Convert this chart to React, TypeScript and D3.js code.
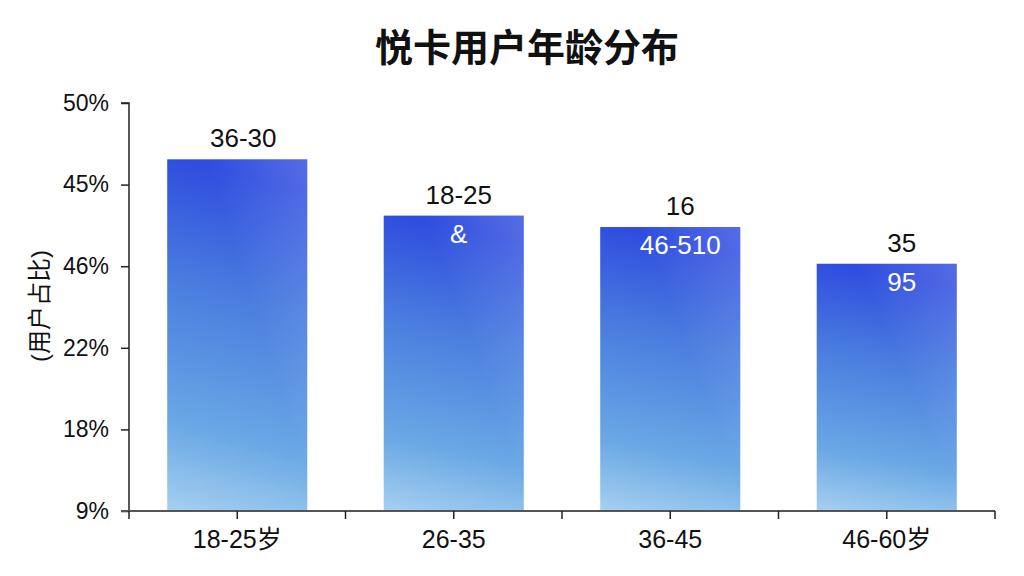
import * as d3 from "d3";
import { useEffect, useRef } from "react";

const W = 1024;
const H = 576;
const M = { top: 103, right: 29, bottom: 65, left: 129 };

const CATEGORIES = ["18-25岁", "26-35", "36-45", "46-60岁"];
const VALUES = [43.1, 36.2, 34.8, 30.3];
const TOP_LABELS = ["36-30", "18-25", "16", "35"];
const INNER_LABELS = ["", "&", "46-510", "95"];
const Y_TICKS = [0, 10, 20, 30, 40, 50];
const Y_TICK_LABELS = ["9%", "18%", "22%", "46%", "45%", "50%"];

const FONT = "'Liberation Sans', Arial, 'Noto Sans CJK SC', sans-serif";

export default function App() {
  const ref = useRef<SVGSVGElement>(null);

  useEffect(() => {
    const svg = d3.select(ref.current);
    svg.selectAll("*").remove();

    const x = d3
      .scaleBand<string>()
      .domain(CATEGORIES)
      .range([M.left, W - M.right])
      .paddingInner(0.353)
      .paddingOuter(0.1765);
    const y = d3.scaleLinear().domain([0, 50]).range([H - M.bottom, M.top]);

    const defs = svg.append("defs");
    const grad = defs
      .append("linearGradient")
      .attr("id", "barGrad")
      .attr("x1", 0.1)
      .attr("y1", 0)
      .attr("x2", 0)
      .attr("y2", 1);
    grad.append("stop").attr("offset", "0%").attr("stop-color", "#2f4ddf");
    grad.append("stop").attr("offset", "35%").attr("stop-color", "#4a7ddf");
    grad.append("stop").attr("offset", "75%").attr("stop-color", "#6aa8e5");
    grad.append("stop").attr("offset", "100%").attr("stop-color", "#a6d0f0");

    const shine = defs
      .append("linearGradient")
      .attr("id", "shine")
      .attr("x1", 1)
      .attr("y1", 0)
      .attr("x2", 0.55)
      .attr("y2", 0.35);
    shine.append("stop").attr("offset", "0%").attr("stop-color", "#fff").attr("stop-opacity", 0.18);
    shine.append("stop").attr("offset", "100%").attr("stop-color", "#fff").attr("stop-opacity", 0);

    svg
      .append("rect")
      .attr("width", W)
      .attr("height", H)
      .attr("fill", "#ffffff");

    // title
    svg
      .append("text")
      .attr("x", 527)
      .attr("y", 61)
      .attr("text-anchor", "middle")
      .attr("font-family", FONT)
      .attr("font-size", 38)
      .attr("font-weight", 700)
      .attr("fill", "#111")
      .text("悦卡用户年龄分布");

    // bars
    const bars = svg.append("g");
    CATEGORIES.forEach((c, i) => {
      const bx = x(c)!;
      const by = y(VALUES[i]);
      const bh = y(0) - by;
      bars
        .append("rect")
        .attr("x", bx)
        .attr("y", by)
        .attr("width", x.bandwidth())
        .attr("height", bh)
        .attr("fill", "url(#barGrad)");
      bars
        .append("rect")
        .attr("x", bx)
        .attr("y", by)
        .attr("width", x.bandwidth())
        .attr("height", bh)
        .attr("fill", "url(#shine)");
    });

    // labels
    const labels = svg.append("g").attr("font-family", FONT).attr("text-anchor", "middle");
    CATEGORIES.forEach((c, i) => {
      const cx = x(c)! + x.bandwidth() / 2 + (i === 0 ? 6 : i * 5);
      const by = y(VALUES[i]);
      labels
        .append("text")
        .attr("x", cx)
        .attr("y", by - 12)
        .attr("font-size", 26)
        .attr("fill", "#111")
        .text(TOP_LABELS[i]);
      if (INNER_LABELS[i]) {
        labels
          .append("text")
          .attr("x", cx)
          .attr("y", by + 27)
          .attr("font-size", 26)
          .attr("fill", "#ffffff")
          .text(INNER_LABELS[i]);
      }
    });

    // y axis
    const yAxis = svg
      .append("g")
      .attr("transform", `translate(${M.left},0)`)
      .call(
        d3
          .axisLeft(y)
          .tickValues(Y_TICKS)
          .tickSize(8)
          .tickPadding(12)
          .tickFormat((_, i) => Y_TICK_LABELS[i])
      );
    yAxis.select(".domain").attr("stroke", "#222").attr("stroke-width", 1.5).attr("d", `M-8,${M.top}H0V${H - M.bottom}`);
    yAxis.selectAll(".tick line").attr("stroke", "#222").attr("stroke-width", 1.5);
    yAxis
      .selectAll(".tick text")
      .attr("font-family", FONT)
      .attr("font-size", 23)
      .attr("fill", "#111");

    // x axis
    const base = y(0);
    const xg = svg.append("g");
    xg.append("line")
      .attr("x1", M.left - 8)
      .attr("x2", W - M.right)
      .attr("y1", base)
      .attr("y2", base)
      .attr("stroke", "#555")
      .attr("stroke-width", 2);
    const step = x.step();
    const edges = d3.range(CATEGORIES.length + 1).map((i) => M.left + i * step);
    const centers = CATEGORIES.map((c) => x(c)! + x.bandwidth() / 2);
    [...edges, ...centers].forEach((tx) => {
      xg.append("line")
        .attr("x1", tx)
        .attr("x2", tx)
        .attr("y1", base)
        .attr("y2", base + 8)
        .attr("stroke", "#222")
        .attr("stroke-width", 1.5);
    });
    CATEGORIES.forEach((c, i) => {
      xg.append("text")
        .attr("x", centers[i])
        .attr("y", base + 37)
        .attr("text-anchor", "middle")
        .attr("font-family", FONT)
        .attr("font-size", 25)
        .attr("fill", "#111")
        .text(c);
    });

    // y label
    svg
      .append("text")
      .attr("transform", `translate(48,306) rotate(-90)`)
      .attr("text-anchor", "middle")
      .attr("font-family", FONT)
      .attr("font-size", 24)
      .attr("fill", "#111")
      .text("(用户占比)");
  }, []);

  return (
    <svg
      ref={ref}
      width={W}
      height={H}
      style={{ display: "block", position: "absolute", left: 0, top: 0 }}
    />
  );
}
